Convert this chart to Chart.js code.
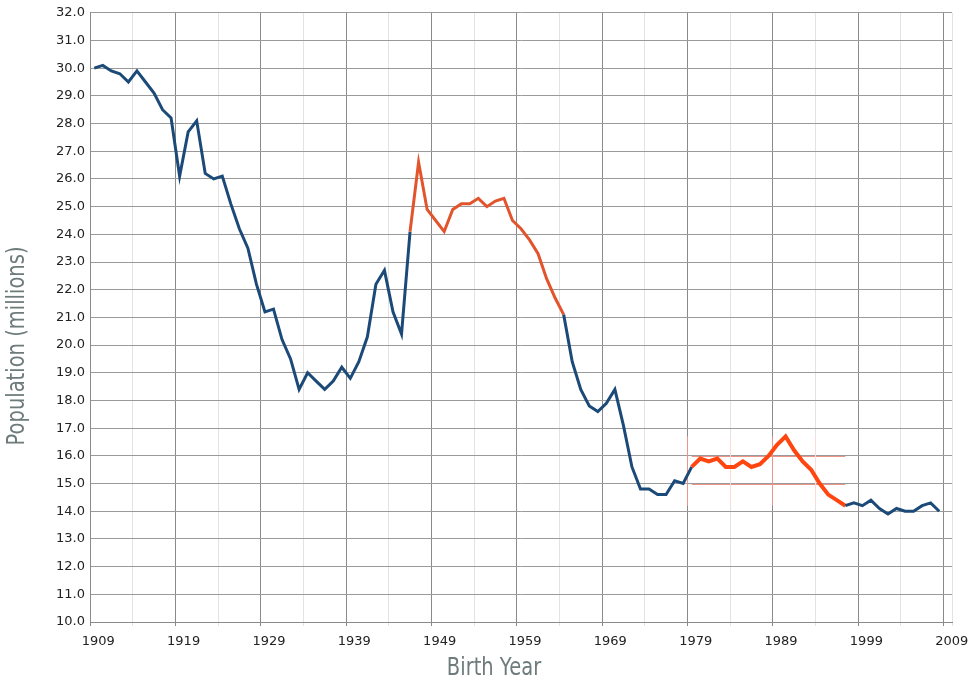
<!DOCTYPE html>
<html>
<head>
<meta charset="utf-8">
<script src="https://cdn.jsdelivr.net/npm/chart.js@4.4.0/dist/chart.umd.min.js"></script>
<style>
  html, body { margin: 0; padding: 0; background: #fff; }
  #wrap { width: 979px; height: 686px; }
</style>
</head>
<body>
<div id="wrap"><canvas id="chart-canvas"></canvas></div>
<script>
// birth years on the x axis (one band per year, last band is 2009)
var years = [];
for (var yr = 1909; yr <= 2009; yr++) years.push(yr);

// population in millions by birth year, 1909 .. 2008
var population = [
  30.0, 30.1, 29.9, 29.8, 29.5, 29.9, 29.5, 29.1, 28.5, 28.2,
  26.1, 27.7, 28.1, 26.2, 26.0, 26.1, 25.1, 24.2, 23.5, 22.2,
  21.2, 21.3, 20.2, 19.5, 18.4, 19.0, 18.7, 18.4, 18.7, 19.2,
  18.8, 19.4, 20.3, 22.2, 22.7, 21.2, 20.4, 24.1, 26.6, 24.9,
  24.5, 24.1, 24.9, 25.1, 25.1, 25.3, 25.0, 25.2, 25.3, 24.5,
  24.2, 23.8, 23.3, 22.4, 21.7, 21.1, 19.4, 18.4, 17.8, 17.6,
  17.9, 18.4, 17.1, 15.6, 14.8, 14.8, 14.6, 14.6, 15.1, 15.0,
  15.6, 15.9, 15.8, 15.9, 15.6, 15.6, 15.8, 15.6, 15.7, 16.0,
  16.4, 16.7, 16.2, 15.8, 15.5, 15.0, 14.6, 14.4, 14.2, 14.3,
  14.2, 14.4, 14.1, 13.9, 14.1, 14.0, 14.0, 14.2, 14.3, 14.0
];

// highlighted ranges
var boomYears = [1946, 1964];
var echoYears = [1979, 1997];

var yMin = 10, yMax = 32, yStep = 0.5;
var xTitle = 'Birth Year';
var yTitle = 'Population (millions)';

var blue = '#1c4a78';
var boomColor = '#e2552c';
var echoColor = '#ff4510';
var majorGrid = '#9a9a9a';
var majorGridV = '#8a8a8a';
var minorGrid = '#e3e3e3';
var redMajor = '#ec9488';
var redMinor = '#fbdcd6';
var titleColor = '#6e7b7b';

function inRange(i, range) {
    var y = years[i];
    return y >= range[0] && y <= range[1];
}

function isWhole(v) { return Math.abs(v - Math.round(v)) < 1e-6; }

// same pixel snapping as Chart.js grid lines
function snap(p) { return Math.round(p - 0.5) + 0.5; }

// white page behind the chart
var whiteBg = {
    id: 'whiteBg',
    beforeDraw: function(chart) {
        var ctx = chart.ctx;
        ctx.save();
        ctx.fillStyle = '#fff';
        ctx.fillRect(0, 0, chart.width, chart.height);
        ctx.restore();
    }
};

// reddish grid around the echo boom, like the glow in the original
var echoGlow = {
    id: 'echoGlow',
    beforeDatasetsDraw: function(chart) {
        var xs = chart.scales.x, ys = chart.scales.y;
        var i0 = years.indexOf(echoYears[0]), i1 = years.indexOf(echoYears[1]);
        var slice = population.slice(i0, i1 + 1);
        var hi = Math.max.apply(null, slice), lo = Math.min.apply(null, slice);
        var x0 = xs.getPixelForValue(i0), x1 = xs.getPixelForValue(i1);
        var top = ys.getPixelForValue(hi), bot = ys.getPixelForValue(lo);
        var band = xs.getPixelForValue(1) - xs.getPixelForValue(0);
        var ctx = chart.ctx;
        ctx.save();
        ctx.lineWidth = 1;
        ys.ticks.forEach(function(t) {
            if (t.value > hi || t.value < lo) return;
            var py = Math.round(ys.getPixelForValue(t.value)) + 0.5;
            ctx.strokeStyle = isWhole(t.value) ? redMajor : redMinor;
            ctx.beginPath(); ctx.moveTo(x0, py); ctx.lineTo(x1, py); ctx.stroke();
        });
        for (var i = i0; i <= i1; i++) {
            if (i % 5 !== 0) continue;
            var px = snap(xs.getPixelForValue(i) - band / 2);
            ctx.strokeStyle = i % 10 === 0 ? redMajor : redMinor;
            ctx.beginPath(); ctx.moveTo(px, top); ctx.lineTo(px, bot); ctx.stroke();
        }
        ctx.restore();
    }
};

// axis titles in a narrow face (squeezed horizontally)
var axisTitles = {
    id: 'axisTitles',
    afterDraw: function(chart) {
        var ctx = chart.ctx;
        ctx.save();
        ctx.fillStyle = titleColor;
        ctx.font = "25px 'DejaVu Sans', sans-serif";
        ctx.textAlign = 'center';
        ctx.textBaseline = 'middle';

        ctx.save();
        ctx.translate(494, 668);
        ctx.scale(0.78, 1);
        ctx.fillText(xTitle, 0, 0);
        ctx.restore();

        ctx.save();
        ctx.translate(17, 346);
        ctx.rotate(-Math.PI / 2);
        ctx.scale(0.78, 1);
        ctx.fillText(yTitle, 0, 0);
        ctx.restore();

        ctx.restore();
    }
};

new Chart('chart-canvas', {
    type: 'line',
    data: {
        labels: years,
        datasets: [{
            data: population,
            borderColor: blue,
            borderWidth: 3,
            pointRadius: 0,
            tension: 0,
            segment: {
                borderColor: function(ctx) {
                    if (inRange(ctx.p0DataIndex, echoYears) && inRange(ctx.p1DataIndex, echoYears)) return echoColor;
                    if (inRange(ctx.p0DataIndex, boomYears) && inRange(ctx.p1DataIndex, boomYears)) return boomColor;
                    return blue;
                },
                borderWidth: function(ctx) {
                    if (inRange(ctx.p0DataIndex, echoYears) && inRange(ctx.p1DataIndex, echoYears)) return 4;
                    return 3;
                }
            }
        }]
    },
    options: {
        responsive: true,
        maintainAspectRatio: false,
        animation: false,
        layout: { padding: { top: 9, right: 27, left: 0, bottom: 0 } },
        plugins: { legend: { display: false }, tooltip: { enabled: false } },
        scales: {
            x: {
                type: 'category',
                offset: true,
                afterFit: function(scale) { scale.height = 64; },
                grid: {
                    offset: true,
                    tickLength: 4,
                    color: function(ctx) {
                        if (ctx.index === undefined) return minorGrid;
                        if (ctx.index % 10 === 0) return majorGridV;
                        if (ctx.index % 5 === 0) return minorGrid;
                        return 'rgba(0,0,0,0)';
                    }
                },
                border: { color: '#8a8a8a', width: 1 },
                ticks: {
                    autoSkip: false,
                    maxRotation: 0,
                    labelOffset: 4,
                    padding: 8,
                    color: '#222',
                    font: { family: "'DejaVu Sans', sans-serif", size: 13 },
                    callback: function(val, i) {
                        return (years[i] - years[0]) % 10 === 0 ? String(years[i]) : '';
                    }
                }
            },
            y: {
                min: yMin,
                max: yMax,
                afterFit: function(scale) { scale.width = 90; },
                grid: {
                    drawTicks: false,
                    color: function(ctx) {
                        var v = ctx.tick ? ctx.tick.value : 0;
                        return isWhole(v) ? majorGrid : minorGrid;
                    }
                },
                border: { color: '#8a8a8a', width: 1 },
                ticks: {
                    stepSize: yStep,
                    padding: 5,
                    color: '#222',
                    font: { family: "'DejaVu Sans', sans-serif", size: 13 },
                    callback: function(val) {
                        return isWhole(val) ? val.toFixed(1) : '';
                    }
                }
            }
        }
    },
    plugins: [whiteBg, echoGlow, axisTitles]
});
</script>
</body>
</html>
